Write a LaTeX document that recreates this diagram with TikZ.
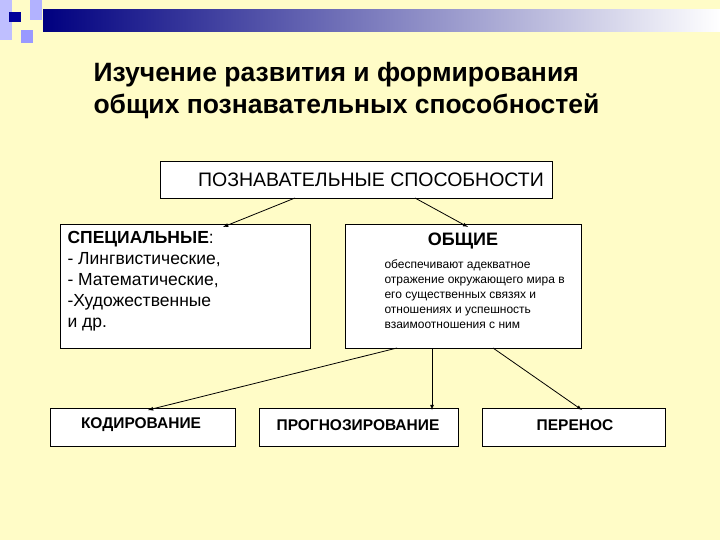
\documentclass[tikz,border=0pt]{standalone}
\usepackage{fontspec}
\setmainfont{Liberation Sans}
\begin{document}
\begin{tikzpicture}[x=1pt,y=-1pt,
  box/.style={draw=black,fill=white,line width=0.6pt},
  lab/.style={font=\bfseries\fontsize{15.5}{18}\selectfont},
  arr/.style={-latex,line width=0.8pt}]
\useasboundingbox (0,0) rectangle (720,540);
\fill[fill=yellow!22] (0,0) rectangle (720,540);
% header decoration
\shade[left color=blue!50!black,right color=white] (43,10) rectangle (720,32);
\fill[blue!25!white] (0,0) rectangle (12,40);
\fill[blue!30!white] (30,0) rectangle (42,20);
\fill[blue!40!white] (21,30) rectangle (33,43);
\fill[blue!60!black] (9,12) rectangle (21,22);
% title
\node[anchor=west,font=\bfseries\fontsize{26.5}{32}\selectfont,align=left] (title) at (90,91)
 {Изучение развития и формирования\\общих познавательных способностей};
% boxes
\draw[box] (160,161) rectangle (552,198);
\node (top) at (371,179.5) {\fontsize{19.5}{22}\selectfont ПОЗНАВАТЕЛЬНЫЕ СПОСОБНОСТИ};
\draw[box] (60,224) rectangle (310,348);
\node[anchor=north west,align=left,font=\fontsize{17.5}{21}\selectfont] (spec) at (64,228)
 {\textbf{СПЕЦИАЛЬНЫЕ}:\\- Лингвистические,\\- Математические,\\-Художественные\\и др.};
\draw[box] (345,224) rectangle (581,348);
\node[font=\bfseries\fontsize{18}{20}\selectfont] (gen) at (463,241) {ОБЩИЕ};
\node[anchor=north west,align=left,font=\fontsize{12}{15}\selectfont] (gtext) at (381,256)
 {обеспечивают адекватное\\отражение окружающего мира в\\его существенных связях и\\отношениях и успешность\\взаимоотношения с ним};
\draw[box] (50,408) rectangle (235,446);
\node[lab] (kod) at (141,425) {КОДИРОВАНИЕ};
\draw[box] (259,408) rectangle (458,446);
\node[lab] (prog) at (358,425) {ПРОГНОЗИРОВАНИЕ};
\draw[box] (482,408) rectangle (665,446);
\node[lab] (per) at (575,425) {ПЕРЕНОС};
% connector endpoints
\coordinate (a1) at (295,198); \coordinate (a2) at (223,227);
\coordinate (b1) at (415,198); \coordinate (b2) at (468,227);
\coordinate (c1) at (397,348); \coordinate (c2) at (148,410);
\coordinate (d1) at (432,348); \coordinate (d2) at (432,410);
\coordinate (e1) at (493,348); \coordinate (e2) at (582,410);
\draw[arr] (a1) -- (a2);
\draw[arr] (b1) -- (b2);
\draw[arr] (c1) -- (c2);
\draw[arr] (d1) -- (d2);
\draw[arr] (e1) -- (e2);
\end{tikzpicture}
\end{document}
